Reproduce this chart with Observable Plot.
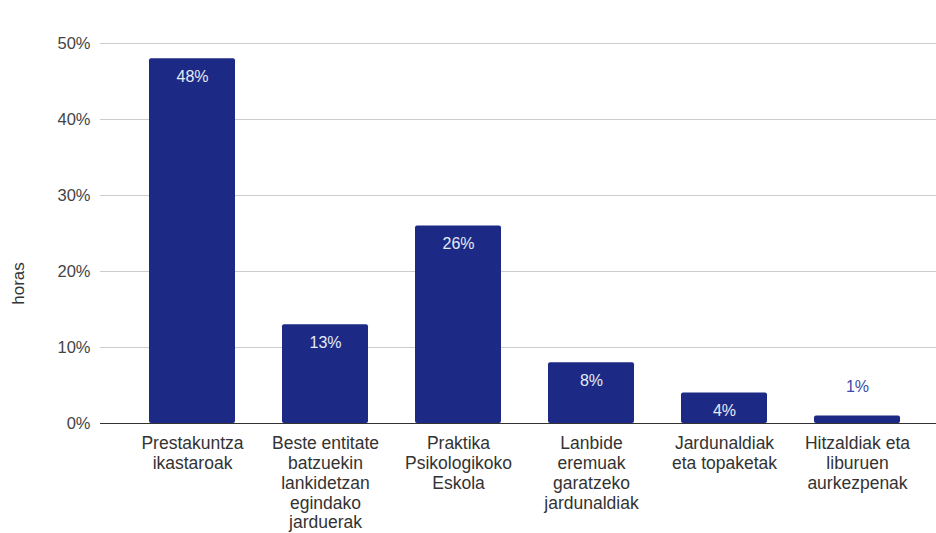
<!DOCTYPE html>
<html>
<head>
<meta charset="utf-8">
<script src="https://cdn.jsdelivr.net/npm/d3@7"></script>
<script src="https://cdn.jsdelivr.net/npm/@observablehq/plot@0.6"></script>
<style>
  html, body { margin: 0; padding: 0; background: #fff; }
  #chart { width: 936px; height: 533px; }
</style>
</head>
<body>
<div id="chart"></div>
<script>
const categories = [
  "Prestakuntza\nikastaroak",
  "Beste entitate\nbatzuekin\nlankidetzan\negindako\njarduerak",
  "Praktika\nPsikologikoko\nEskola",
  "Lanbide\neremuak\ngaratzeko\njardunaldiak",
  "Jardunaldiak\neta topaketak",
  "Hitzaldiak eta\nliburuen\naurkezpenak"
];
const values = [48, 13, 26, 8, 4, 1];
const yTicks = [0, 10, 20, 30, 40, 50];
const yLabel = "horas";

const data = categories.map((c, i) => ({cat: c, v: values[i]}));

const chart = Plot.plot({
  width: 936,
  height: 533,
  marginLeft: 100,
  marginRight: 0,
  marginTop: 43,
  marginBottom: 110,
  style: {fontFamily: "Arial, 'Liberation Sans', sans-serif", background: "#fff"},
  x: {domain: categories, range: [124.3, 924.7], paddingInner: 0.355, paddingOuter: 0.1775, label: null},
  y: {domain: [0, 50], label: null},
  marks: [
    Plot.ruleY(yTicks.filter(d => d > 0), {stroke: "#cccccc", strokeWidth: 1}),
    Plot.barY(data, {x: "cat", y: "v", fill: "#1c2a85", rx: 2}),
    Plot.ruleY([0], {stroke: "#333333", strokeWidth: 1}),
    Plot.text(data.filter(d => d.v >= 3), {x: "cat", y: "v", text: d => d.v + "%", dy: 18, fill: "#e6eaf7", fontSize: 16}),
    Plot.text(data.filter(d => d.v < 3), {x: "cat", y: "v", text: d => d.v + "%", dy: -29, fill: "#3b4aa8", fontSize: 16}),
    Plot.axisY({ticks: yTicks, tickFormat: d => d + "%", tickSize: 0, tickPadding: 10, fontSize: 16.5, color: "#444", label: null}),
    Plot.axisX({tickSize: 0, tickPadding: 11, fontSize: 17.5, lineHeight: 1.14, color: "#333", label: null}),
    Plot.text([yLabel], {frameAnchor: "left", textAnchor: "middle", text: d => d, rotate: -90, dx: -82, dy: 50, fontSize: 17, fill: "#333"})
  ]
});
document.getElementById("chart").appendChild(chart);
</script>
</body>
</html>
